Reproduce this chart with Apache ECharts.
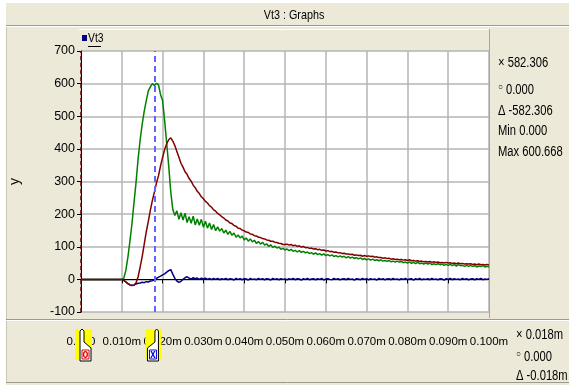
<!DOCTYPE html>
<html>
<head>
<meta charset="utf-8">
<script src="https://cdn.jsdelivr.net/npm/echarts@6/dist/echarts.min.js"></script>
<style>
html, body { margin: 0; padding: 0; background: #fff; }
#chart { width: 569px; height: 385px; }
</style>
</head>
<body>
<div id="chart"></div>
<script>
// transient run, one sample every 0.5 thousandths of the x unit ("m")
// x is kept in thousandths so the ticks land on whole numbers
const timeStep = 0.5;

// green trace
const green = [
  0,0,0,0,0,0,0,0,0,0,0,0,0,0,0,0,0,0,0,0,0,
  4,28,68,118,172,236,298,370,428,476,516,548,578,590,600,594,601,596,566,548,486,418,348,268,214,
  196,210,184,204,182,203,174,192,172,194,167,185,166,184,160,178,157,173,153,168,
  149,161,148,156,142,151,138,147,135,142,129,136,127,133,121,127,117,124,115,120,
  110,116,108,114,105,109,101,106,98,102,96,99,92,95,90,
  93,88,92,86,89,84,88,83,86,81,84,79,82,77,81,76,79,74,78,73,
  76,72,75,70,73,69,72,68,71,66,70,65,68,64,67,63,66,61,64,60,
  63,59,62,58,60,57,60,56,58,55,58,54,56,53,56,53,55,51,53,50,
  54,49,52,48,52,48,50,47,50,47,50,45,48,45,48,45,47,43,46,43,
  46,42,45,41,45,42,43,40,43,40,43,40,42,38,41,39,42,38,40,38
];

// dark red trace
const red = [
  0,0,0,0,0,0,0,0,0,0,0,0,0,0,0,0,0,0,0,0,0,
  -3,-8,-13,-17,-19,-18,-10,8,38,70,108,146,178,212,242,268,296,318,348,374,398,416,428,434,424,
  410,392,374,356,344,330,322,309,301,289,281,270,263,253,247,239,234,226,221,213,
  209,202,198,192,188,182,179,173,171,165,163,157,156,151,149,145,144,139,138,134,
  133,129,128,125,124,121,120,117,117,114,113,111,110,107,107,
  108,105,107,103,105,101,103,99,101,97,98,95,96,93,94,91,92,89,90,87,
  88,85,86,83,84,81,82,79,80,78,78,76,77,74,75,73,74,71,73,71,
  72,70,71,68,69,67,67,65,66,64,65,62,63,61,62,60,61,59,60,58,
  60,57,58,56,57,55,56,54,55,53,55,52,54,52,53,51,52,50,52,50,
  51,49,50,48,50,48,49,47,48,47,48,46,47,45,47,45,46,44,46,44
];

// navy trace (Vt3)
const blue = [
  0,0,0,0,0,0,0,0,0,0,0,0,0,0,0,0,0,0,0,0,0,
  -3,-8,-13,-17,-18,-17,-14,-12,-11,-9,-10,-7,-8,-5,-4,-1,3,7,10,14,17,22,27,30,16,
  3,-5,-9,-6,0,5,8,4,1,5,2,4,0,4,1,4,0,3,-1,3,
  0,3,-1,2,0,3,-1,2,1,-2,3,0,2,-1,2,1,-2,3,0,1,
  -1,3,0,2,-1,2,1,-2,3,0,2,-1,2,0,1,
  -1,2,0,3,-1,2,1,-2,2,0,3,-1,1,2,-1,2,0,3,-2,1,
  2,0,-1,3,0,2,-1,1,2,-1,3,0,1,-2,2,1,-1,3,0,2,
  -1,2,0,1,-2,3,0,2,-1,1,2,-1,3,0,1,-1,2,0,3,-1,
  1,2,-2,2,0,3,-1,1,0,2,-1,3,0,1,-1,2,1,-2,2,0,
  3,-1,2,0,1,-1,3,0,2,-1,1,2,-1,2,0,3,-1,1,0,2
];

// cursor positions (thousandths) and readouts
const cursorX = 18;
const cursorO = 0;
const yReadout = ['582.306', '0.000', '-582.306'];
const minMax = ['0.000', '600.668'];
const xReadout = ['0.018m', '0.000', '-0.018m'];

const FONT = "'Liberation Sans', Arial, sans-serif";
const panelBg = '#ECE9D8';
const squeeze = 0.8; // the original text is horizontally narrow

const toPairs = (arr) => arr.map((v, i) => [i * timeStep, v]);

const chart = echarts.init(document.getElementById('chart'));

chart.setOption({
  animation: false,
  backgroundColor: panelBg,
  grid: {
    left: 79, top: 51, width: 410, height: 261,
    show: true, backgroundColor: '#fff', borderWidth: 0
  },
  xAxis: {
    type: 'value', min: 0, max: 100, interval: 10,
    offset: 15,
    axisLine: { show: true, lineStyle: { color: '#000', width: 1 } },
    axisTick: { show: true, length: 4, lineStyle: { color: '#000' } },
    axisLabel: {
      color: '#000', fontSize: 11.5, fontFamily: FONT, margin: 9,
      formatter: (v) => v === 0 ? '0.000' : (v / 1000).toFixed(3) + 'm'
    },
    splitLine: { show: true, lineStyle: { color: '#B4B4B4', width: 1.5 } }
  },
  yAxis: {
    type: 'value', min: -100, max: 700, interval: 100,
    name: 'y', nameLocation: 'middle', nameGap: 59, nameRotate: 90,
    nameTextStyle: { color: '#000', fontSize: 14, fontFamily: FONT },
    axisLine: { show: true, lineStyle: { color: '#000', width: 1 } },
    axisTick: { show: true, length: 4, lineStyle: { color: '#000' } },
    axisLabel: { color: '#000', fontSize: 12.5, fontFamily: FONT, margin: 6 },
    splitLine: { show: true, lineStyle: { color: '#B4B4B4', width: 1.5 } }
  },
  series: [
    {
      name: 'Vt3', type: 'line', data: toPairs(blue), showSymbol: false,
      lineStyle: { color: '#000080', width: 1.5 }, itemStyle: { color: '#000080' }
    },
    {
      name: 'green', type: 'line', data: toPairs(green), showSymbol: false,
      lineStyle: { color: '#008000', width: 1.5 }
    },
    {
      name: 'red', type: 'line', data: toPairs(red), showSymbol: false,
      lineStyle: { color: '#800000', width: 1.5 },
      markLine: {
        silent: true, symbol: 'none', label: { show: false },
        data: [
          { xAxis: cursorO, lineStyle: { color: '#800000', type: [4, 3], width: 1.5 } },
          { xAxis: cursorX, lineStyle: { color: '#6464FF', type: [6, 4], width: 2 } }
        ]
      }
    }
  ]
});

// window chrome, legend, readouts and cursor handles
const text = (str, x, y, opts = {}) => ({
  type: 'text', z: 100, x: x, y: y, scaleX: squeeze,
  style: Object.assign({
    text: str, x: 0, y: 0, fill: '#000', fontSize: 14, fontFamily: FONT,
    align: 'left', verticalAlign: 'middle'
  }, opts)
});
const hline = (x1, x2, y, color) => ({
  type: 'line', z: 90, shape: { x1: x1, y1: y, x2: x2, y2: y }, style: { stroke: color, lineWidth: 1 }
});
const vline = (x, y1, y2, color) => ({
  type: 'line', z: 90, shape: { x1: x, y1: y1, x2: x, y2: y2 }, style: { stroke: color, lineWidth: 1 }
});

function cursorTab(px, dir, sym, color) {
  // dir 1: box to the right of the stem, -1: box to the left
  const a = dir > 0 ? px - 1 : px + 4;
  const b = dir > 0 ? px + 3 : px + 0.5;
  const far = dir > 0 ? px + 10 : px - 7;
  const lo = Math.min(a, far), hi = Math.max(a, far);
  const yl = dir > 0 ? [px - 6, px + 11] : [px - 9, px + 7];
  return [
    { type: 'rect', z: 95, shape: { x: yl[0], y: 329, width: yl[1] - yl[0], height: 31 }, style: { fill: '#FFFF00' } },
    {
      type: 'polygon', z: 96,
      shape: { points: [[a, 361], [a, 331], [(a + b) / 2, 329], [b, 331], [b, 342], [far, 348], [far, 361]] },
      style: { fill: '#fff', stroke: '#000', lineWidth: 1 }
    },
    { type: 'rect', z: 97, shape: { x: lo + 2, y: 350, width: hi - lo - 4, height: 9 }, style: { fill: '#fff', stroke: color, lineWidth: 1 } },
    text(sym, (lo + hi) / 2, 355, { fill: color, fontSize: 12, fontWeight: 'bold', align: 'center' })
  ];
}

const pO = chart.convertToPixel({ gridIndex: 0 }, [cursorO, 0])[0];
const pX = chart.convertToPixel({ gridIndex: 0 }, [cursorX, 0])[0];

chart.setOption({
  graphic: [
    // white margin outside the window
    { type: 'rect', z: 80, shape: { x: 0, y: 0, width: 6, height: 385 }, style: { fill: '#fff' } },
    { type: 'rect', z: 80, shape: { x: 0, y: 0, width: 569, height: 3 }, style: { fill: '#fff' } },
    // title bar
    hline(6, 569, 25.5, '#9C9A8E'),
    hline(6, 569, 26.5, '#fff'),
    vline(6.5, 27, 383, '#C8C5B5'),
    text('Vt3 : Graphs', 294, 15, { align: 'center', fontSize: 13.5 }),
    // legend strip
    hline(79, 489, 29.5, '#fff'),
    { type: 'rect', z: 90, shape: { x: 82, y: 35, width: 5, height: 6 }, style: { fill: '#000080' } },
    text('Vt3', 88, 38, { fontSize: 13 }),
    hline(88, 101, 46.5, '#000'),
    // right panel and bottom panel borders
    vline(489.5, 29, 318, '#A9A694'),
    hline(6, 569, 319.5, '#9C9A8E'),
    hline(6, 569, 320.5, '#fff'),
    hline(6, 569, 382.5, '#9C9A8E'),
    // y readouts
    text('\u00D7 ' + yReadout[0], 498, 63),
    text('\u25CB', 498, 87, { fontSize: 10 }),
    text(yReadout[1], 506, 90),
    text('\u0394 ' + yReadout[2], 498, 111),
    text('Min ' + minMax[0], 498, 131),
    text('Max ' + minMax[1], 498, 152),
    // x readouts
    text('\u00D7 ' + xReadout[0], 516, 335),
    text('\u25CB', 516, 354, { fontSize: 10 }),
    text(xReadout[1], 524, 357),
    text('\u0394 ' + xReadout[2], 516, 376),
    // cursor handles
    ...cursorTab(pO, 1, 'o', '#E00000'),
    ...cursorTab(pX, -1, 'x', '#0000E0')
  ]
});
</script>
</body>
</html>
